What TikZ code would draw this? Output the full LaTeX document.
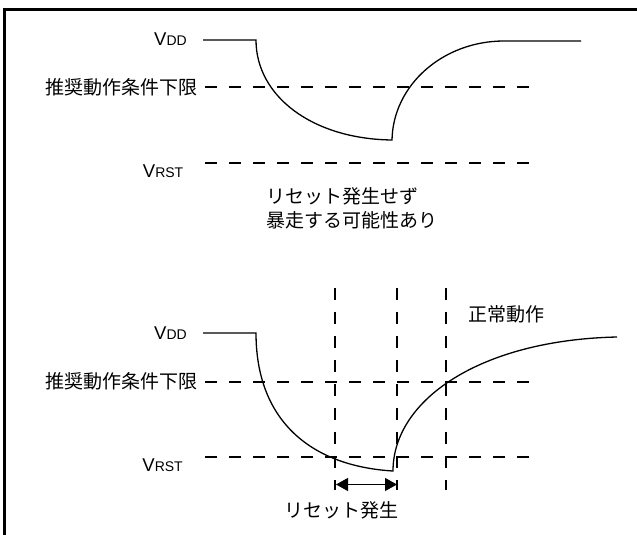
\documentclass[tikz,border=0pt]{standalone}
\usepackage{fontspec}
\setmainfont{Liberation Sans}
\newfontfamily\jpfont{Noto Sans CJK JP}
\usetikzlibrary{positioning,arrows.meta,calc}

\tikzset{
  wave/.style={line width=1.3pt},
  guide/.style={line width=1.1pt,dash pattern=on 12pt off 12pt},
  jplbl/.style={inner sep=0pt,font=\jpfont\fontsize{19}{24}\selectfont},
  vlbl/.style={inner sep=0pt,anchor=east},
}
\newcommand{\vname}[1]{{\fontsize{18.5}{20}\selectfont V}{\fontsize{14}{16}\selectfont #1}}

\begin{document}
\begin{tikzpicture}[x=1pt,y=-1pt]
  \useasboundingbox (0,0) rectangle (637,535);
  % 枠
  \draw[line width=2.3pt] (4.5,535) -- (4.5,9.5) -- (637,9.5);

  % 上段: リセットなし
  \node[vlbl] (vddA) at (187,39) {\vname{DD}};
  \node[jplbl,anchor=east] (limA) at (198,87.5) {推奨動作条件下限};
  \node[vlbl] (rstA) at (183.5,171.5) {\vname{RST}};
  \coordinate (dropA) at (256,40);
  \coordinate (lowA) at (392,140);
  \coordinate (topA) at (504,41);
  \draw[guide] (205,87) -- (529,87);
  \draw[guide] (205,163) -- (529,163);
  \draw[wave] (203,40) -- (dropA)
      .. controls (256,96) and (312,139) .. (lowA)
      .. controls (393,85) and (443,41) .. (topA) -- (581,41);
  \node[jplbl,align=left,anchor=north west] (msgA) at (266,187)
      {リセット発生せず\\暴走する可能性あり};

  % 下段: リセット発生
  \node[vlbl] (vddB) at (187,333) {\vname{DD}};
  \node[jplbl,anchor=east] (limB) at (198,381.7) {推奨動作条件下限};
  \node[vlbl] (rstB) at (183,465) {\vname{RST}};
  \coordinate (dropB) at (256,333);
  \coordinate (lowB) at (393,471);
  \draw[guide] (205,382) -- (529,382);
  \draw[guide] (205,457) -- (529,457);
  \foreach \x in {335,397,446}{
      \draw[guide] (\x,288) -- (\x,490);
  }
  \draw[wave] (203,333) -- (dropB)
      .. controls (256,420) and (310,466) .. (lowB)
      .. controls (393,400) and (480,340) .. (617,337);
  \coordinate (rsL) at (336,484.5);
  \coordinate (rsR) at (397,484.5);
  \draw[line width=1.2pt,{Triangle[length=12pt,width=13pt]}-{Triangle[length=12pt,width=13pt]}]
      (rsL) -- (rsR);
  \node[jplbl] (rsLbl) at (341,510) {リセット発生};
  \node[jplbl] (okLbl) at (506.5,314) {正常動作};
\end{tikzpicture}
\end{document}
